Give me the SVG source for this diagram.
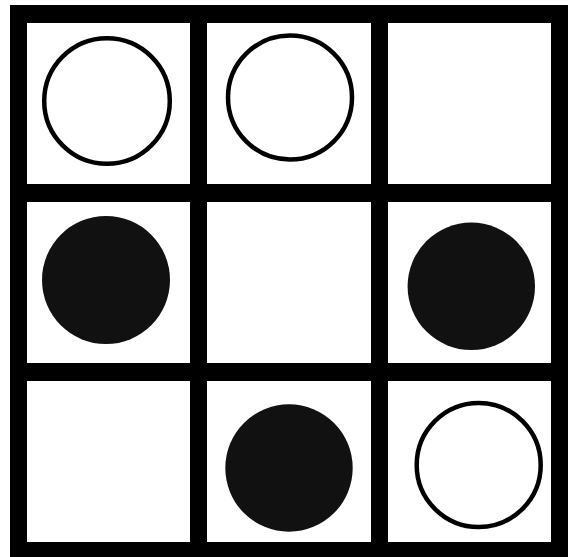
<svg xmlns="http://www.w3.org/2000/svg" width="577" height="557" viewBox="0 0 577 557">
<style>
.cell{fill:#ffffff}
.open{fill:#ffffff;stroke:#000000;stroke-width:4.5}
.solid{fill:#111111}
</style>
<rect x="0" y="0" width="577" height="557" fill="#ffffff"/>
<g id="board">
<rect x="10" y="5" width="558" height="555" fill="#000000"/>
</g>
<g id="cell-r1c1"><rect class="cell" x="27" y="23" width="163" height="161"/><circle class="open" cx="107" cy="101" r="62.8"/></g>
<g id="cell-r1c2"><rect class="cell" x="207" y="23" width="164" height="161"/><circle class="open" cx="290" cy="97.5" r="62"/></g>
<g id="cell-r1c3"><rect class="cell" x="388" y="23" width="163" height="161"/></g>
<g id="cell-r2c1"><rect class="cell" x="27" y="202" width="163" height="161"/><circle class="solid" cx="106" cy="280" r="64"/></g>
<g id="cell-r2c2"><rect class="cell" x="207" y="202" width="164" height="161"/></g>
<g id="cell-r2c3"><rect class="cell" x="388" y="202" width="163" height="161"/><circle class="solid" cx="471.3" cy="286.3" r="63.7"/></g>
<g id="cell-r3c1"><rect class="cell" x="27" y="381" width="163" height="161"/></g>
<g id="cell-r3c2"><rect class="cell" x="207" y="381" width="164" height="161"/><circle class="solid" cx="289" cy="468" r="63.7"/></g>
<g id="cell-r3c3"><rect class="cell" x="388" y="381" width="163" height="161"/><circle class="open" cx="478.7" cy="465" r="62"/></g>
<g id="connectors"></g>
</svg>
